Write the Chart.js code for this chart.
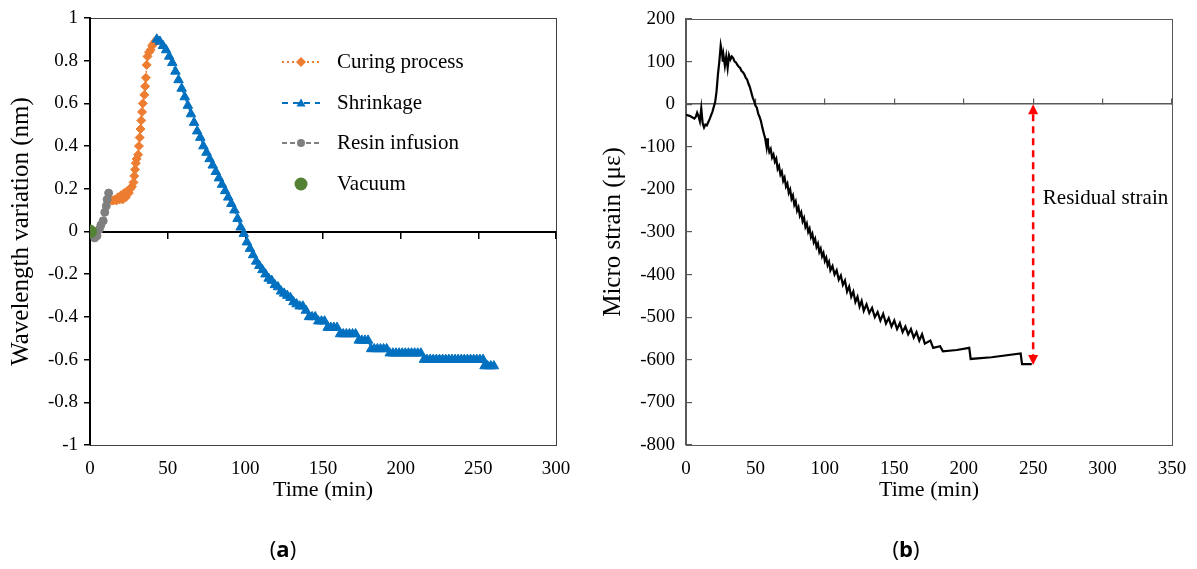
<!DOCTYPE html>
<html>
<head>
<meta charset="utf-8">
<script src="https://cdn.jsdelivr.net/npm/chart.js@4.4.1/dist/chart.umd.min.js"></script>
<style>
  html, body { margin: 0; padding: 0; background: #fff; }
  #wrap { position: relative; width: 1197px; height: 569px; background: #fff; overflow: hidden; }
  #cA { position: absolute; left: 0; top: 0; }
  #cB { position: absolute; left: 598px; top: 0; }
  .cap { position: absolute; top: 533px; font-family: "Open Sans", "DejaVu Sans", sans-serif; font-size: 22px; color: #000; transform: translateX(-50%); }
  .cap b { font-weight: 700; }
</style>
</head>
<body>
<div id="wrap">
  <canvas id="cA" width="598" height="569"></canvas>
  <canvas id="cB" width="599" height="569"></canvas>
  <div class="cap" style="left:283px">(<b>a</b>)</div>
  <div class="cap" style="left:906px">(<b>b</b>)</div>
</div>
<script>
// ---------------- Data: chart (a) ----------------
const seriesNamesA = ['Curing process', 'Shrinkage', 'Resin infusion', 'Vacuum'];
const xTicksA = [0, 50, 100, 150, 200, 250, 300];
const yTicksA = ['-1', '-0.8', '-0.6', '-0.4', '-0.2', '0', '0.2', '0.4', '0.6', '0.8', '1'];

const vacuum = [[0, 0]];

const resinInfusion = [
  [0, 0], [1.5, -0.01], [3, -0.03], [4.5, -0.02], [6, 0.01], [7, 0.03],
  [8.5, 0.05], [9.5, 0.09], [10.5, 0.12], [11, 0.15], [12, 0.18]
];

const curingProcess = [
  [13, 0.15], [14, 0.145], [15, 0.145], [16, 0.15], [17, 0.145], [18, 0.16],
  [19, 0.15], [20, 0.17], [21, 0.15], [22, 0.18], [23, 0.16], [24, 0.19],
  [25, 0.18], [26, 0.2], [27, 0.21], [28, 0.23], [28.5, 0.26], [29, 0.29],
  [29.5, 0.32], [30, 0.34], [31, 0.36], [31.5, 0.40], [32, 0.44], [32.5, 0.48],
  [33, 0.52], [33.5, 0.56], [34, 0.60], [35, 0.64], [35.5, 0.68], [36, 0.72],
  [36.5, 0.78], [37, 0.82], [38, 0.84], [39, 0.85], [40, 0.87], [41, 0.88],
  [42, 0.89], [43, 0.9]
];

const shrinkage = [
  [43, 0.90], [45, 0.89], [47, 0.87], [49, 0.85], [51, 0.82], [53, 0.79],
  [55, 0.75], [57, 0.71], [59, 0.67], [61, 0.63], [63, 0.59], [65, 0.55],
  [67, 0.51], [69, 0.47], [71, 0.44], [73, 0.40], [75, 0.37], [77, 0.34],
  [79, 0.31], [81, 0.28], [83, 0.25], [85, 0.22], [87, 0.19], [89, 0.16],
  [91, 0.13], [93, 0.10], [95, 0.06], [97, 0.02], [99, -0.01], [101, -0.05],
  [103, -0.08], [105, -0.11], [107, -0.14], [109, -0.16], [111, -0.18],
  [113, -0.20], [115, -0.22], [117, -0.23], [119, -0.25], [121, -0.26],
  [123, -0.28], [125, -0.29], [127, -0.30], [129, -0.31], [131, -0.33],
  [133, -0.34], [135, -0.35], [137, -0.35], [139, -0.37], [141, -0.40],
  [143, -0.40], [145, -0.40], [147, -0.42], [149, -0.42], [151, -0.42],
  [153, -0.45], [155, -0.45], [157, -0.45], [159, -0.45], [161, -0.48],
  [163, -0.48], [165, -0.48], [167, -0.48], [169, -0.48], [171, -0.48],
  [173, -0.51], [175, -0.51], [177, -0.51], [179, -0.51], [181, -0.55],
  [183, -0.55], [185, -0.55], [187, -0.55], [189, -0.55], [191, -0.55],
  [193, -0.57], [195, -0.57], [197, -0.57], [199, -0.57], [201, -0.57],
  [203, -0.57], [205, -0.57], [207, -0.57], [209, -0.57], [211, -0.57],
  [213, -0.57], [215, -0.60], [217, -0.60], [219, -0.60], [221, -0.60],
  [223, -0.60], [225, -0.60], [227, -0.60], [229, -0.60], [231, -0.60],
  [233, -0.60], [235, -0.60], [237, -0.60], [239, -0.60], [241, -0.60],
  [243, -0.60], [245, -0.60], [247, -0.60], [249, -0.60], [251, -0.60],
  [253, -0.60], [254, -0.63], [256, -0.63], [258, -0.63], [260, -0.63]
];

// ---------------- Data: chart (b) ----------------
const xTicksB = [0, 50, 100, 150, 200, 250, 300, 350];
const yTicksB = [-800, -700, -600, -500, -400, -300, -200, -100, 0, 100, 200];
const microStrain = [
  [0, -25], [3, -28], [6, -34], [7, -30], [8, -20], [9, -28], [10, -40], [11, -10],
  [12, -45], [13, -55], [14, -48], [15, -50], [17, -35], [19, -18], [21, 5], [22, 30],
  [23, 70], [24, 100], [25, 138], [26, 120], [26.5, 100], [27, 115], [28, 90], [29, 112],
  [30, 85], [31, 115], [32, 105], [33, 112], [34, 108], [35, 100], [36, 98], [37, 92],
  [38, 88], [39, 85], [40, 78], [41, 75], [42, 70], [43, 62], [44, 58], [45, 48],
  [46, 40], [47, 28], [48, 16], [49, 8], [50, -3], [51, -8], [52, -22], [53, -30],
  [54, -40], [55, -55], [56, -68], [57, -80], [58, -100], [58.5, -80], [59, -95],
  [60, -112], [61, -105], [62, -125], [63, -118], [64, -135], [65, -128], [66, -152],
  [67, -145], [68, -165], [69, -158], [70, -180], [71, -172], [72, -193], [73, -186],
  [74, -208], [75, -200], [76, -222], [77, -214], [78, -236], [79, -228], [80, -250],
  [81, -242], [82, -262], [83, -254], [84, -275], [85, -267], [86, -288], [87, -280],
  [88, -300], [89, -292], [90, -312], [91, -304], [92, -324], [93, -316], [94, -335],
  [95, -327], [96, -347], [97, -339], [98, -357], [99, -349], [100, -368], [101, -360],
  [102, -378], [103, -370], [104, -390], [105.5, -380], [107, -400], [108.5, -390],
  [110, -412], [111.5, -402], [113, -424], [114.5, -414], [116, -440], [117.5, -428],
  [119, -452], [120.5, -440], [122, -464], [123.5, -452], [125, -475], [126.5, -462],
  [128, -485], [130, -470], [132, -490], [134, -478], [136, -500], [138, -488],
  [140, -508], [142, -492], [144, -515], [146, -502], [148, -522], [150, -508],
  [152, -528], [154, -514], [156, -535], [158, -522], [160, -540], [162, -528],
  [164, -548], [166, -535], [168, -555], [170, -540], [172, -562], [176, -555],
  [178, -572], [183, -568], [185, -580], [195, -577], [204, -572], [205, -598],
  [220, -594], [241, -585], [242, -610], [249, -610]
];
const residualTime = 250;
const residualTop = 0;
const residualBottom = -612;
const residualLabel = 'Residual strain';
const residualLabelAt = [257, -222];

// ---------------- Helpers ----------------
const toXY = arr => arr.map(p => ({ x: p[0], y: p[1] }));
const SERIF = '"Liberation Serif", "Times New Roman", serif';

function drawMarker(ctx, style, x, y, r, color) {
  ctx.save();
  ctx.fillStyle = color;
  ctx.beginPath();
  if (style === 'rectRot') {
    ctx.moveTo(x, y - r); ctx.lineTo(x + r, y); ctx.lineTo(x, y + r); ctx.lineTo(x - r, y);
  } else if (style === 'triangle') {
    ctx.moveTo(x, y - r); ctx.lineTo(x + r, y + r * 0.75); ctx.lineTo(x - r, y + r * 0.75);
  } else {
    ctx.arc(x, y, r, 0, Math.PI * 2);
  }
  ctx.closePath();
  ctx.fill();
  ctx.restore();
}

const framePlugin = {
  id: 'frame',
  beforeDraw(chart, args, opts) {
    const a = chart.chartArea, ctx = chart.ctx;
    ctx.save();
    ctx.strokeStyle = opts.color || '#595959';
    ctx.lineWidth = opts.width || 1;
    ctx.strokeRect(Math.round(a.left) + 0.5, Math.round(a.top) + 0.5,
                   Math.round(a.right - a.left), Math.round(a.bottom - a.top));
    ctx.restore();
  }
};

const legendA = {
  id: 'legendA',
  afterDraw(chart) {
    const ctx = chart.ctx;
    const rows = [62, 103, 143, 184];
    const x0 = 282, x1 = 320, xm = 301, xt = 337;
    const samples = [
      { dash: [2, 3], style: 'rectRot', r: 5, line: true },
      { dash: [6, 5], style: 'triangle', r: 4.5, line: true },
      { dash: [5, 3], style: 'circle', r: 4, line: true },
      { dash: [], style: 'circle', r: 6.5, line: false }
    ];
    chart.data.datasets.forEach((ds, i) => {
      const y = rows[i], s = samples[i];
      ctx.save();
      if (s.line) {
        ctx.strokeStyle = ds.borderColor;
        ctx.lineWidth = 2;
        ctx.setLineDash(s.dash);
        ctx.beginPath(); ctx.moveTo(x0, y); ctx.lineTo(x1, y); ctx.stroke();
      }
      ctx.restore();
      drawMarker(ctx, s.style, xm, y, s.r, ds.pointBackgroundColor);
      ctx.save();
      ctx.fillStyle = '#000';
      ctx.font = '21px ' + SERIF;
      ctx.textBaseline = 'middle';
      ctx.fillText(ds.label, xt, y);
      ctx.restore();
    });
  }
};

const residualPlugin = {
  id: 'residual',
  afterDatasetsDraw(chart) {
    const ctx = chart.ctx, xs = chart.scales.x, ys = chart.scales.y;
    const x = xs.getPixelForValue(residualTime);
    const yT = ys.getPixelForValue(residualTop);
    const yB = ys.getPixelForValue(residualBottom);
    const head = 10, hw = 5;
    ctx.save();
    ctx.strokeStyle = '#FF0000';
    ctx.fillStyle = '#FF0000';
    ctx.lineWidth = 2.5;
    ctx.setLineDash([7, 5]);
    ctx.beginPath(); ctx.moveTo(x, yT + head); ctx.lineTo(x, yB - head); ctx.stroke();
    ctx.setLineDash([]);
    ctx.beginPath(); ctx.moveTo(x, yT); ctx.lineTo(x + hw, yT + head); ctx.lineTo(x - hw, yT + head); ctx.closePath(); ctx.fill();
    ctx.beginPath(); ctx.moveTo(x, yB); ctx.lineTo(x + hw, yB - head); ctx.lineTo(x - hw, yB - head); ctx.closePath(); ctx.fill();
    ctx.fillStyle = '#000';
    ctx.font = '21px ' + SERIF;
    ctx.textBaseline = 'middle';
    ctx.fillText(residualLabel, xs.getPixelForValue(residualLabelAt[0]), ys.getPixelForValue(residualLabelAt[1]));
    ctx.restore();
  }
};

const tickFont = { family: SERIF, size: 19 };
const titleFont = { family: SERIF, size: 22 };
const yTitleFont = { family: SERIF, size: 25 };
const fixVPad = s => { s.paddingTop = 8; s.paddingBottom = 8; };

// ---------------- Chart (a) ----------------
new Chart(document.getElementById('cA'), {
  type: 'scatter',
  data: {
    datasets: [
      {
        label: seriesNamesA[0], data: toXY(curingProcess), showLine: true, order: 3,
        borderColor: '#ED7D31', backgroundColor: '#ED7D31', borderWidth: 1.5, borderDash: [2, 3],
        pointStyle: 'rectRot', pointRadius: 4.5, pointBackgroundColor: '#ED7D31', pointBorderColor: '#ED7D31', pointBorderWidth: 1
      },
      {
        label: seriesNamesA[1], data: toXY(shrinkage), showLine: true, order: 2,
        borderColor: '#0070C0', backgroundColor: '#0070C0', borderWidth: 1.5, borderDash: [6, 5],
        pointStyle: 'triangle', pointRadius: 5.5, pointBackgroundColor: '#0070C0', pointBorderColor: '#0070C0', pointBorderWidth: 1
      },
      {
        label: seriesNamesA[2], data: toXY(resinInfusion), showLine: true, order: 1,
        borderColor: '#7F7F7F', backgroundColor: '#7F7F7F', borderWidth: 1.5, borderDash: [5, 3],
        pointStyle: 'circle', pointRadius: 4, pointBackgroundColor: '#7F7F7F', pointBorderColor: '#7F7F7F', pointBorderWidth: 1
      },
      {
        label: seriesNamesA[3], data: toXY(vacuum), showLine: false, order: 0,
        borderColor: '#548235', backgroundColor: '#548235',
        pointStyle: 'circle', pointRadius: 6.5, pointBackgroundColor: '#548235', pointBorderColor: '#548235', pointBorderWidth: 1
      }
    ]
  },
  options: {
    responsive: false, animation: false, devicePixelRatio: 1,
    layout: { padding: { top: 18, right: 42, bottom: 66, left: 0 } },
    plugins: { legend: { display: false }, tooltip: { enabled: false }, frame: { color: '#404040', width: 1 } },
    scales: {
      x: {
        type: 'linear', position: 'bottom', min: xTicksA[0], max: xTicksA[xTicksA.length - 1],
        afterBuildTicks: s => { s.ticks = xTicksA.map(v => ({ value: v })); },
        ticks: { font: tickFont, color: '#000', padding: 5, maxRotation: 0 },
        grid: { display: false }, border: { display: false },
        title: { display: true, text: 'Time (min)', font: titleFont, color: '#000', padding: 0 },
        afterFit: s => { s.height = 58; }
      },
      x0: {
        type: 'linear', position: { y: 0 }, min: xTicksA[0], max: xTicksA[xTicksA.length - 1],
        afterBuildTicks: s => { s.ticks = xTicksA.map(v => ({ value: v })); },
        ticks: { display: false },
        grid: { drawOnChartArea: false, tickLength: 6, color: '#000', lineWidth: 1.5 },
        border: { color: '#000', width: 2 }
      },
      y: {
        min: -1, max: 1,
        afterBuildTicks: s => { s.ticks = yTicksA.map(v => ({ value: parseFloat(v) })); },
        ticks: { font: tickFont, color: '#000', padding: 6, callback: (v, i) => yTicksA[i] },
        grid: { drawOnChartArea: false, tickLength: 6, color: '#000', lineWidth: 1.5 },
        border: { color: '#000', width: 2 },
        title: { display: true, text: 'Wavelength variation (nm)', font: yTitleFont, color: '#000', padding: { top: 6, bottom: 0 } },
        afterFit: s => { s.width = 90; fixVPad(s); }
      }
    }
  },
  plugins: [framePlugin, legendA]
});

// ---------------- Chart (b) ----------------
new Chart(document.getElementById('cB'), {
  type: 'scatter',
  data: {
    datasets: [{
      label: 'Micro strain', data: toXY(microStrain), showLine: true,
      borderColor: '#000', borderWidth: 2.2, pointRadius: 0, tension: 0
    }]
  },
  options: {
    responsive: false, animation: false, devicePixelRatio: 1,
    layout: { padding: { top: 19, right: 25, bottom: 66, left: 0 } },
    plugins: { legend: { display: false }, tooltip: { enabled: false }, frame: { color: '#595959', width: 1 } },
    scales: {
      x: {
        type: 'linear', position: 'bottom', min: xTicksB[0], max: xTicksB[xTicksB.length - 1],
        afterBuildTicks: s => { s.ticks = xTicksB.map(v => ({ value: v })); },
        ticks: { font: tickFont, color: '#000', padding: 5, maxRotation: 0 },
        grid: { display: false }, border: { display: false },
        title: { display: true, text: 'Time (min)', font: titleFont, color: '#000', padding: 0 },
        afterFit: s => { s.height = 58; }
      },
      x0: {
        type: 'linear', position: { y: 0 }, min: xTicksB[0], max: xTicksB[xTicksB.length - 1],
        afterBuildTicks: s => { s.ticks = xTicksB.map(v => ({ value: v })); },
        ticks: { display: false },
        grid: { drawOnChartArea: false, tickLength: -6, color: '#595959', lineWidth: 1.2 },
        border: { color: '#595959', width: 1.5 }
      },
      y: {
        min: yTicksB[0], max: yTicksB[yTicksB.length - 1],
        afterBuildTicks: s => { s.ticks = yTicksB.map(v => ({ value: v })); },
        ticks: { font: tickFont, color: '#000', padding: 17 },
        grid: { drawOnChartArea: false, tickLength: -6, color: '#595959', lineWidth: 1.2 },
        border: { color: '#595959', width: 1.2 },
        title: { display: true, text: 'Micro strain (με)', font: yTitleFont, color: '#000', padding: { top: 0, bottom: 0 } },
        afterFit: s => { s.width = 88; fixVPad(s); }
      }
    }
  },
  plugins: [framePlugin, residualPlugin]
});
</script>
</body>
</html>
